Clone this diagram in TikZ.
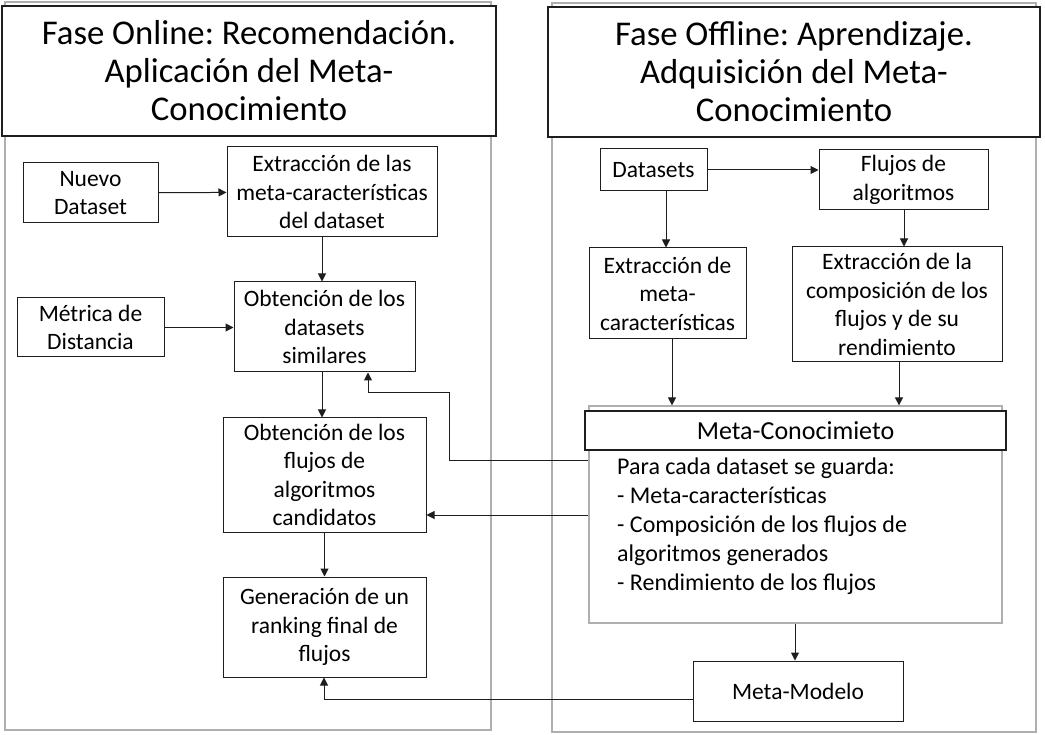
\documentclass[tikz,border=0pt]{standalone}
\usepackage{fontspec}
\setmainfont{Carlito}
\usetikzlibrary{arrows.meta,calc}
\definecolor{frame}{RGB}{175,175,175}
\definecolor{ink}{RGB}{30,30,30}
\frenchspacing
\begin{document}
\begin{tikzpicture}[x=1pt,y=-1pt,
  panel/.style={draw=frame,line width=1.3pt},
  titlebox/.style={draw=ink,fill=white,line width=1.2pt,inner sep=0pt,align=center,
    font=\fontsize{34.7}{38}\selectfont},
  box/.style={draw=ink,fill=white,line width=1pt,inner sep=0pt,align=center,
    font=\fontsize{23.5}{28.5}\selectfont},
  arr/.style={draw=ink,line width=1pt,-{Triangle[length=8pt,width=8pt]}},
  ln/.style={draw=ink,line width=1pt}]
\useasboundingbox (0,0) rectangle (1045,735);
\fill[white] (0,0) rectangle (1045,735);
% panels
\draw[panel] (5,2) rectangle (491,730);
\draw[panel] (552,3) rectangle (1036,732);
% titles
\node[titlebox,minimum width=494pt,minimum height=130pt] (tl) at (249,71)
  {Fase Online: Recomendación.\\Aplicación del Meta-\\Conocimiento};
\node[titlebox,minimum width=492pt,minimum height=130pt] (tr) at (794,72)
  {Fase Offline: Aprendizaje.\\Adquisición del Meta-\\Conocimiento};
% left boxes
\node[box,minimum width=135pt,minimum height=60pt] (nd) at (90.5,193) {Nuevo\\Dataset};
\node[box,minimum width=210pt,minimum height=90pt] (ex) at (332,192) {Extracción de las\\meta-características\\del dataset};
\node[box,minimum width=147pt,minimum height=59pt] (md) at (90.5,327.5) {Métrica de\\Distancia};
\node[box,minimum width=181pt,minimum height=90pt] (sim) at (324.5,327) {Obtención de los\\datasets\\similares};
\node[box,minimum width=203pt,minimum height=114pt] (cand) at (324.5,475) {Obtención de los\\flujos de\\algoritmos\\candidatos};
\node[box,minimum width=203pt,minimum height=100pt] (gen) at (324.5,627) {Generación de un\\ranking final de\\flujos};
% right boxes
\node[box,minimum width=107pt,minimum height=42pt] (ds) at (653.5,170) {Datasets};
\node[box,minimum width=169pt,minimum height=60pt] (fl) at (903.5,180) {Flujos de\\algoritmos};
\node[box,minimum width=157pt,minimum height=91pt] (em) at (667.5,293.5) {Extracción de\\meta-\\características};
\node[box,minimum width=210pt,minimum height=115pt] (comp) at (897,304.5) {Extracción de la\\composición de los\\flujos y de su\\rendimiento};
\node[draw=frame,fill=white,line width=1.2pt,minimum width=413pt,minimum height=217pt,inner sep=0pt] (mcb) at (795.5,514.5) {};
\node[box,line width=1.2pt,minimum width=421pt,minimum height=39pt,font=\fontsize{26}{30}\selectfont] (mch) at (795.5,430.5) {Meta-Conocimieto};
\node[anchor=north west,inner sep=0pt,align=left,font=\fontsize{24}{29}\selectfont] (mct) at (617,458)
  {Para cada dataset se guarda:\\- Meta-características\\- Composición de los flujos de\\algoritmos generados\\- Rendimiento de los flujos};
\node[box,minimum width=210pt,minimum height=60pt] (mm) at (798,691) {Meta-Modelo};
% connectors left
\draw[arr] (nd) -- (ex);
\draw[arr] (md.east) -- (md.east -| sim.west);
\draw[arr] (ex.south -| 322,0) -- (sim.north -| 322,0);
\draw[arr] (sim.south -| 322,0) -- (cand.north -| 322,0);
\draw[arr] (cand) -- (gen);
% connectors right
\draw[arr] (ds.east) -- (ds.east -| fl.west);
\draw[arr] (ds.south -| 666,0) -- (em.north -| 666,0);
\draw[arr] (fl.south -| 904,0) -- (comp.north -| 904,0);
\draw[arr] (em.south -| 672,0) -- (mcb.north -| 672,0);
\draw[arr] (comp.south -| 899,0) -- (mcb.north -| 899,0);
\draw[arr] (mcb.south -| 795,0) -- (mm.north -| 795,0);
% cross connectors
\coordinate (k1) at (449,393);
\draw[arr] (mcb.west |- 0,460) -| (k1) -| (sim.south -| 368,0);
\draw[arr] (mcb.west |- 0,515) -- (cand.east |- 0,515);
\draw[arr] (mm.west |- 0,699) -| (gen.south -| 324,0);
\end{tikzpicture}
\end{document}
